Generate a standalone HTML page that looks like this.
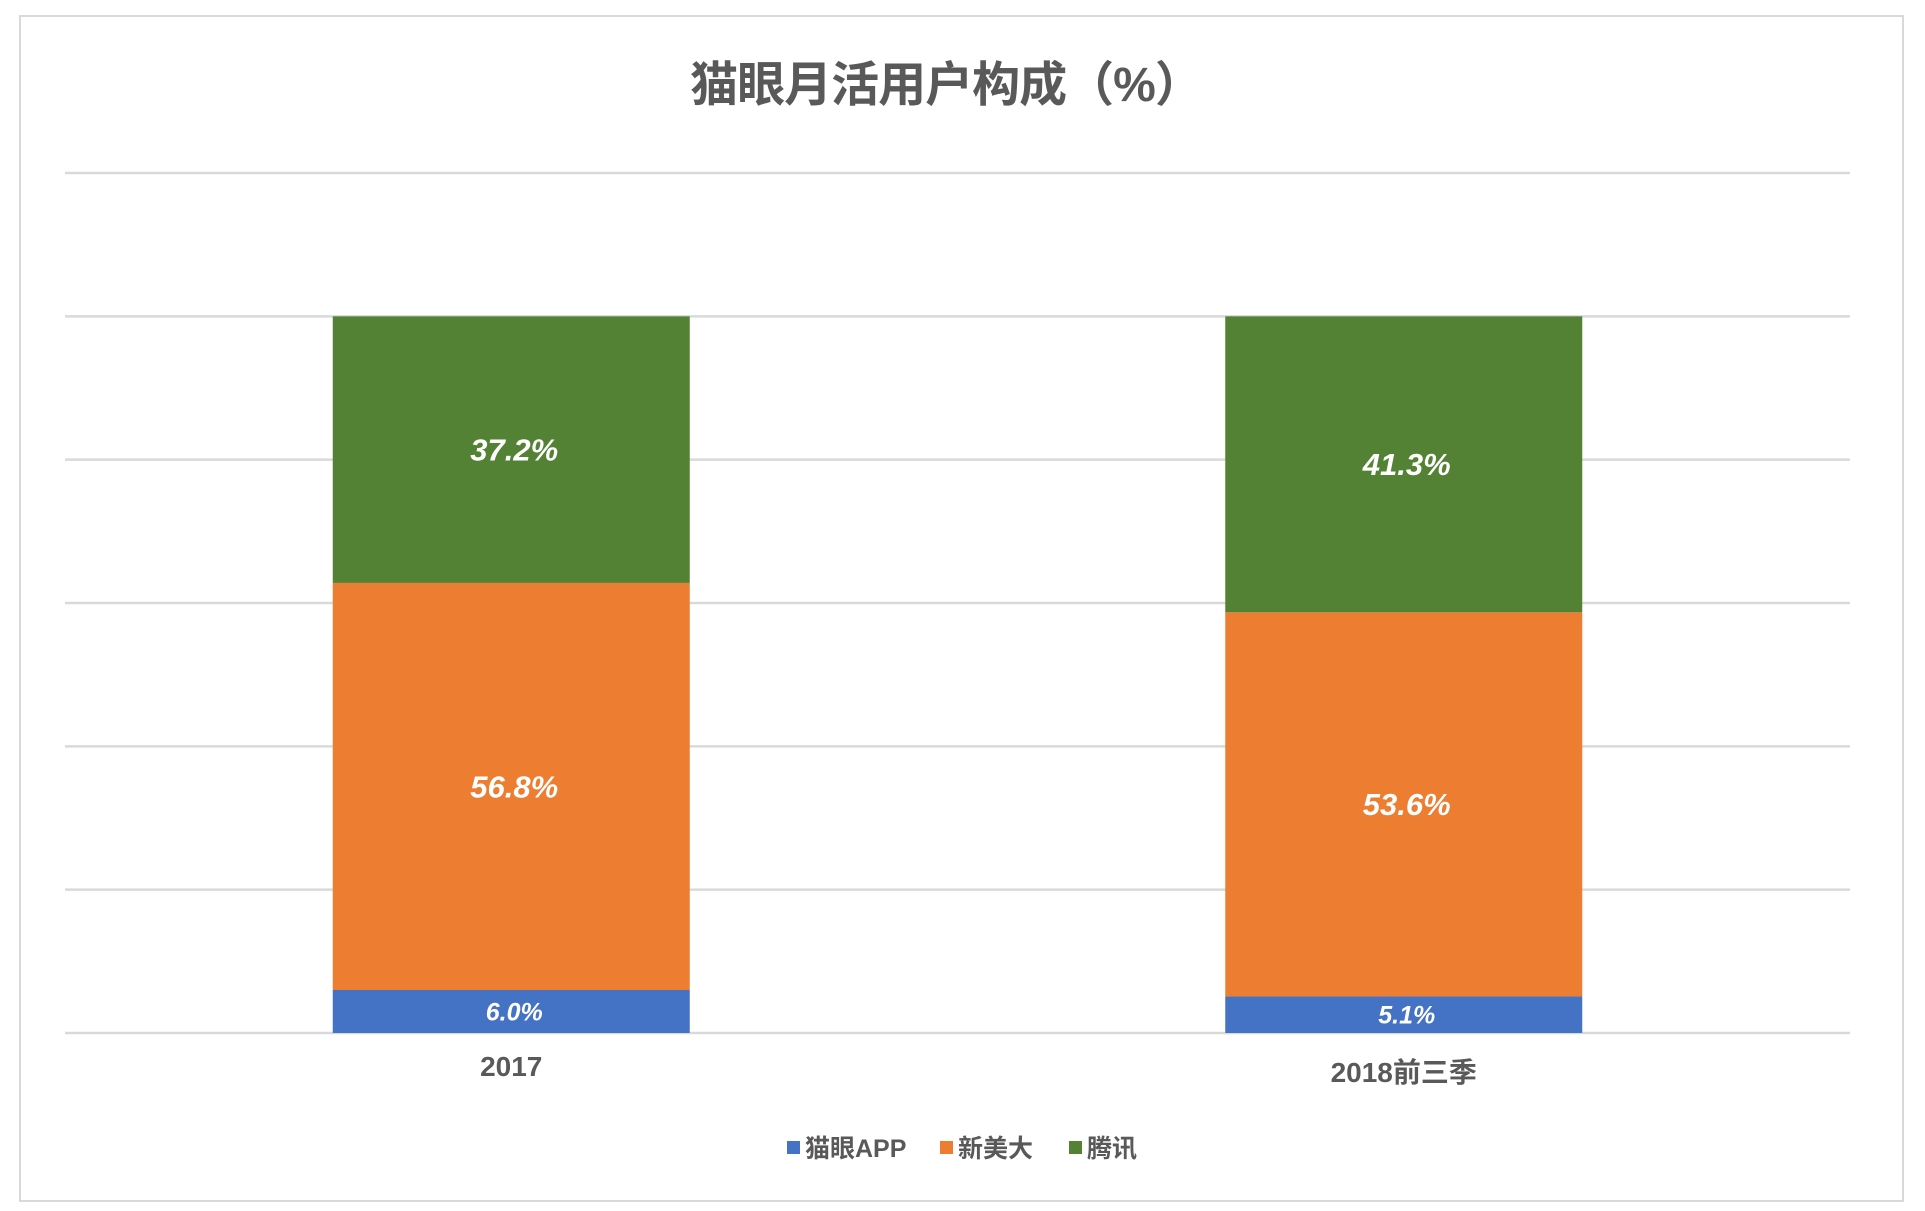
<!DOCTYPE html>
<html><head><meta charset="utf-8">
<style>
html,body{margin:0;padding:0;background:#fff;}
svg{display:block;font-family:"Liberation Sans","Noto Sans CJK SC",sans-serif;}
</style></head>
<body>
<svg id="chart" width="1925" height="1211" viewBox="0 0 1925 1211">
<rect x="20" y="16" width="1883" height="1185" fill="#fff" stroke="#d9d9d9" stroke-width="2"/>
<text x="946" y="101" text-anchor="middle" font-size="48" font-weight="bold" fill="#595959" letter-spacing="-1">猫眼月活用户构成（%）</text>
<g id="grid"></g>
<g id="bars"></g>
<g id="labels"></g>
<g>
<rect x="787" y="1141" width="13" height="13" fill="#4472c4"/>
<text x="805" y="1157" font-size="25" font-weight="bold" fill="#595959">猫眼APP</text>
<rect x="940" y="1141" width="13" height="13" fill="#ed7d31"/>
<text x="958" y="1157" font-size="25" font-weight="bold" fill="#595959">新美大</text>
<rect x="1069" y="1141" width="13" height="13" fill="#548235"/>
<text x="1087" y="1157" font-size="25" font-weight="bold" fill="#595959">腾讯</text>
</g>
</svg>
<script>
const categories = ["2017", "2018前三季"];
const maoyan = [6.0, 5.1];
const meituan = [56.8, 53.6];
const tencent = [37.2, 41.3];
const gridTicks = [0, 20, 40, 60, 80, 100, 120];

const NS = "http://www.w3.org/2000/svg";
const plotL = 65, plotR = 1850, plotTop = 173, plotBot = 1033, yMax = 120;
const y = v => plotBot - v / yMax * (plotBot - plotTop);
const bandW = (plotR - plotL) / categories.length;
const barW = bandW * 0.4;
const xc = i => plotL + bandW * (i + 0.5);
function mk(tag, attrs, parent) {
  const e = document.createElementNS(NS, tag);
  for (const k in attrs) e.setAttribute(k, attrs[k]);
  parent.appendChild(e);
  return e;
}
const grid = document.getElementById('grid');
gridTicks.forEach(t => {
  const l = mk('line', {x1: plotL, x2: plotR, y1: y(t), y2: y(t), stroke: '#d9d9d9', 'stroke-width': 2.5}, grid);
  
  
});
const series = [
  {name: 'maoyan', vals: maoyan, color: '#4472c4', fs: 25},
  {name: 'meituan', vals: meituan, color: '#ed7d31', fs: 31},
  {name: 'tencent', vals: tencent, color: '#548235', fs: 31}
];
const bars = document.getElementById('bars');
const labels = document.getElementById('labels');
categories.forEach((c, i) => {
  let base = 0;
  series.forEach(s => {
    const v = s.vals[i];
    const r = mk('rect', {x: xc(i) - barW / 2, y: y(base + v), width: barW, height: y(base) - y(base + v), fill: s.color}, bars);
    
    
    const t = mk('text', {x: xc(i) + 3, y: (y(base) + y(base + v)) / 2 + s.fs * 0.35, 'text-anchor': 'middle', 'font-size': s.fs, 'font-weight': 'bold', 'font-style': 'italic', fill: '#fff'}, labels);
    t.textContent = v.toFixed(1) + '%';
    
    
    base += v;
  });
  const ct = mk('text', {x: xc(i), y: plotBot + (i === 0 ? 43 : 49), 'text-anchor': 'middle', 'font-size': 28, 'font-weight': 'bold', fill: '#595959'}, labels);
  ct.textContent = c;
  
  
});
</script>
</body></html>
